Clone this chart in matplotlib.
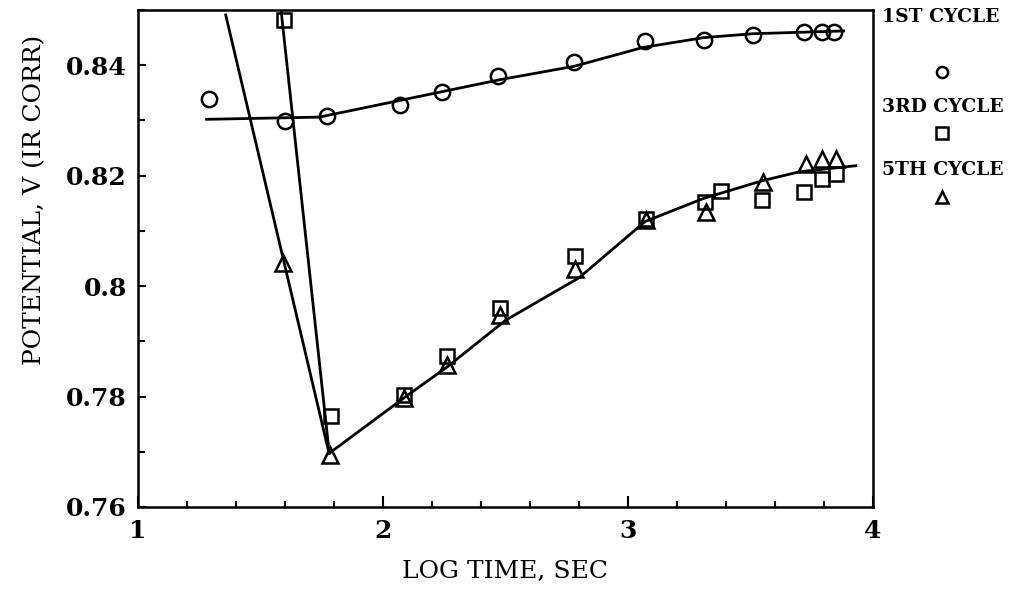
import matplotlib
matplotlib.use("Agg")
import matplotlib.pyplot as plt
from matplotlib.lines import Line2D
from matplotlib.ticker import MultipleLocator

# --- data ---
# 1st cycle
cyc1_x = [1.29, 1.60, 1.77, 2.07, 2.24, 2.47, 2.78, 3.07, 3.31, 3.51, 3.72, 3.79, 3.84]
cyc1_y = [0.8338, 0.8299, 0.8308, 0.8328, 0.8351, 0.8380, 0.8405, 0.8443, 0.8445, 0.8455, 0.8461, 0.8461, 0.8461]
fit1_x = [1.28, 1.74, 2.48, 2.78, 3.06, 3.31, 3.51, 3.88]
fit1_y = [0.8302, 0.8306, 0.8374, 0.8398, 0.8432, 0.8450, 0.8457, 0.8462]

# 3rd cycle
cyc3_x = [1.596, 1.787, 2.086, 2.261, 2.478, 2.784, 3.073, 3.314, 3.38, 3.547, 3.72, 3.79, 3.85]
cyc3_y = [0.8482, 0.7765, 0.7803, 0.7874, 0.7961, 0.8054, 0.8122, 0.8153, 0.8173, 0.8155, 0.8171, 0.8194, 0.8203]
drop3_x = [1.585, 1.78]
drop3_y = [0.8495, 0.7700]

# 5th cycle
cyc5_x = [1.59, 1.784, 2.086, 2.261, 2.478, 2.784, 3.073, 3.318, 3.55, 3.727, 3.79, 3.85]
cyc5_y = [0.8042, 0.7695, 0.7797, 0.7857, 0.7947, 0.8031, 0.8119, 0.8135, 0.8189, 0.8221, 0.8230, 0.8230]
drop5_x = [1.358, 1.78]
drop5_y = [0.8491, 0.7697]

# common recovery curve for 3rd / 5th cycles
fit2_x = [1.78, 2.09, 2.26, 2.50, 2.80, 3.07, 3.31, 3.55, 3.70, 3.93]
fit2_y = [0.7697, 0.7799, 0.7853, 0.7938, 0.8015, 0.8117, 0.8159, 0.8191, 0.8207, 0.8218]

legend_labels = ['1ST CYCLE', '3RD CYCLE', '5TH CYCLE']

fig = plt.figure(figsize=(10.11, 5.94), dpi=100)
ax = fig.add_axes([0.1365, 0.1465, 0.727, 0.8367])

lw = 2.0
for xs, ys in [(fit1_x, fit1_y), (fit2_x, fit2_y), (drop3_x, drop3_y), (drop5_x, drop5_y)]:
    ax.plot(xs, ys, color='black', lw=lw, zorder=2)

mk = dict(linestyle='none', markerfacecolor='none', markeredgecolor='black',
          markeredgewidth=1.8, zorder=3)
ax.plot(cyc1_x, cyc1_y, marker='o', markersize=11, **mk)
ax.plot(cyc3_x, cyc3_y, marker='s', markersize=10, **mk)
ax.plot(cyc5_x, cyc5_y, marker='^', markersize=11, **mk)

ax.set_xlim(1, 4)
ax.set_ylim(0.76, 0.85)
ax.xaxis.set_minor_locator(MultipleLocator(0.2))
ax.yaxis.set_minor_locator(MultipleLocator(0.01))
ax.set_yticks([0.76, 0.78, 0.80, 0.82, 0.84])
ax.set_yticklabels(['0.76', '0.78', '0.8', '0.82', '0.84'])
ax.set_xticks([1, 2, 3, 4])
ax.set_xticklabels(['1', '2', '3', '4'])

for lab in ax.get_xticklabels() + ax.get_yticklabels():
    lab.set_fontfamily('DejaVu Serif')
    lab.set_fontweight('bold')
    lab.set_fontsize(18)

ax.tick_params(which='both', direction='in', top=False, right=False, width=1.5)
ax.tick_params(axis='x', which='major', length=8, pad=9)
ax.tick_params(axis='x', which='minor', length=4)
ax.tick_params(axis='y', which='major', length=6, pad=8)
ax.tick_params(axis='y', which='minor', length=5)
for sp in ax.spines.values():
    sp.set_linewidth(1.8)

ax.set_xlabel('LOG TIME, SEC', family='DejaVu Serif', fontsize=18, labelpad=12)
fig.text(35 / 1011, 1 - 200 / 594, 'POTENTIAL, V (IR CORR)', family='DejaVu Serif',
         fontsize=18, rotation=90, ha='center', va='center')

# legend drawn beside the axes
label_y = [17, 107, 170]
marker_y = [72, 133, 197]
markers = ['o', 's', '^']
for lab, ty, my, m in zip(legend_labels, label_y, marker_y, markers):
    fig.text(882 / 1011, 1 - ty / 594, lab, family='DejaVu Serif', weight='bold',
             fontsize=13.5, ha='left', va='center')
    fig.add_artist(Line2D([942 / 1011], [1 - my / 594], transform=fig.transFigure,
                          marker=m, markersize=8, markerfacecolor='none',
                          markeredgecolor='black', markeredgewidth=1.8, linestyle='none'))

fig.savefig('out.png', dpi=100, facecolor='white')
